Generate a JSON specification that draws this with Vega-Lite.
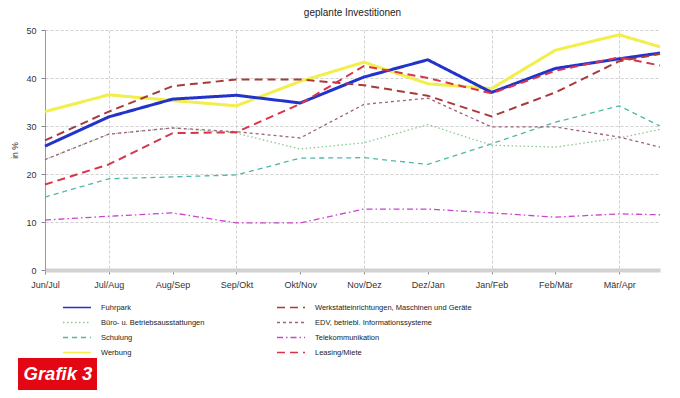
{
  "$schema": "https://vega.github.io/schema/vega-lite/v6.json",
  "width": 615,
  "height": 240,
  "autosize": {"type": "none"},
  "padding": {"left": 45, "top": 30, "right": 20, "bottom": 128},
  "background": "white",
  "title": {
    "text": "geplante Investitionen",
    "font": "Liberation Sans",
    "fontSize": 10,
    "fontWeight": "normal",
    "color": "#222222",
    "anchor": "middle",
    "offset": 8
  },
  "config": {
    "view": {"stroke": null},
    "axis": {
      "labelFont": "Liberation Sans",
      "labelFontSize": 9,
      "labelColor": "#333333",
      "titleFont": "Liberation Sans",
      "titleFontSize": 8.5,
      "titleFontWeight": "normal",
      "titleColor": "#333333",
      "tickColor": "#888888",
      "gridColor": "#c4c4c4",
      "gridDash": [3, 2],
      "gridWidth": 0.8
    }
  },
  "datasets": {
    "werte": [
      {"serie": "Telekommunikation", "t": 0, "wert": 10.4},
      {"serie": "Telekommunikation", "t": 1, "wert": 11.2},
      {"serie": "Telekommunikation", "t": 2, "wert": 11.9},
      {"serie": "Telekommunikation", "t": 3, "wert": 9.8},
      {"serie": "Telekommunikation", "t": 4, "wert": 9.8},
      {"serie": "Telekommunikation", "t": 5, "wert": 12.7},
      {"serie": "Telekommunikation", "t": 6, "wert": 12.7},
      {"serie": "Telekommunikation", "t": 7, "wert": 11.9},
      {"serie": "Telekommunikation", "t": 8, "wert": 11.0},
      {"serie": "Telekommunikation", "t": 9, "wert": 11.7},
      {"serie": "Telekommunikation", "t": 9.64, "wert": 11.5},
      {"serie": "Schulung", "t": 0, "wert": 15.2},
      {"serie": "Schulung", "t": 1, "wert": 19.0},
      {"serie": "Schulung", "t": 2, "wert": 19.4},
      {"serie": "Schulung", "t": 3, "wert": 19.8},
      {"serie": "Schulung", "t": 4, "wert": 23.3},
      {"serie": "Schulung", "t": 5, "wert": 23.4},
      {"serie": "Schulung", "t": 6, "wert": 22.0},
      {"serie": "Schulung", "t": 7, "wert": 26.3},
      {"serie": "Schulung", "t": 8, "wert": 30.8},
      {"serie": "Schulung", "t": 9, "wert": 34.2},
      {"serie": "Schulung", "t": 9.64, "wert": 30.0},
      {"serie": "Büro- u. Betriebsausstattungen", "t": 0, "wert": 23.0},
      {"serie": "Büro- u. Betriebsausstattungen", "t": 1, "wert": 28.3},
      {"serie": "Büro- u. Betriebsausstattungen", "t": 2, "wert": 29.6},
      {"serie": "Büro- u. Betriebsausstattungen", "t": 3, "wert": 28.5},
      {"serie": "Büro- u. Betriebsausstattungen", "t": 4, "wert": 25.2},
      {"serie": "Büro- u. Betriebsausstattungen", "t": 5, "wert": 26.5},
      {"serie": "Büro- u. Betriebsausstattungen", "t": 6, "wert": 30.3},
      {"serie": "Büro- u. Betriebsausstattungen", "t": 7, "wert": 26.0},
      {"serie": "Büro- u. Betriebsausstattungen", "t": 8, "wert": 25.6},
      {"serie": "Büro- u. Betriebsausstattungen", "t": 9, "wert": 27.5},
      {"serie": "Büro- u. Betriebsausstattungen", "t": 9.64, "wert": 29.3},
      {"serie": "EDV, betriebl. Informationssysteme", "t": 0, "wert": 23.0},
      {"serie": "EDV, betriebl. Informationssysteme", "t": 1, "wert": 28.3},
      {"serie": "EDV, betriebl. Informationssysteme", "t": 2, "wert": 29.6},
      {"serie": "EDV, betriebl. Informationssysteme", "t": 3, "wert": 28.8},
      {"serie": "EDV, betriebl. Informationssysteme", "t": 4, "wert": 27.5},
      {"serie": "EDV, betriebl. Informationssysteme", "t": 5, "wert": 34.5},
      {"serie": "EDV, betriebl. Informationssysteme", "t": 6, "wert": 35.8},
      {"serie": "EDV, betriebl. Informationssysteme", "t": 7, "wert": 29.8},
      {"serie": "EDV, betriebl. Informationssysteme", "t": 8, "wert": 29.8},
      {"serie": "EDV, betriebl. Informationssysteme", "t": 9, "wert": 27.7},
      {"serie": "EDV, betriebl. Informationssysteme", "t": 9.64, "wert": 25.6},
      {"serie": "Werbung", "t": 0, "wert": 33.0},
      {"serie": "Werbung", "t": 1, "wert": 36.5},
      {"serie": "Werbung", "t": 2, "wert": 35.3},
      {"serie": "Werbung", "t": 3, "wert": 34.2},
      {"serie": "Werbung", "t": 4, "wert": 39.3},
      {"serie": "Werbung", "t": 5, "wert": 43.3},
      {"serie": "Werbung", "t": 6, "wert": 38.8},
      {"serie": "Werbung", "t": 7, "wert": 37.8},
      {"serie": "Werbung", "t": 8, "wert": 45.8},
      {"serie": "Werbung", "t": 9, "wert": 49.0},
      {"serie": "Werbung", "t": 9.64, "wert": 46.5},
      {"serie": "Fuhrpark", "t": 0, "wert": 25.8},
      {"serie": "Fuhrpark", "t": 1, "wert": 31.9},
      {"serie": "Fuhrpark", "t": 2, "wert": 35.6},
      {"serie": "Fuhrpark", "t": 3, "wert": 36.4},
      {"serie": "Fuhrpark", "t": 4, "wert": 34.8},
      {"serie": "Fuhrpark", "t": 5, "wert": 40.2},
      {"serie": "Fuhrpark", "t": 6, "wert": 43.8},
      {"serie": "Fuhrpark", "t": 7, "wert": 37.0},
      {"serie": "Fuhrpark", "t": 8, "wert": 42.0},
      {"serie": "Fuhrpark", "t": 9, "wert": 44.0},
      {"serie": "Fuhrpark", "t": 9.64, "wert": 45.2},
      {"serie": "Werkstatteinrichtungen, Maschinen und Geräte", "t": 0, "wert": 27.0},
      {"serie": "Werkstatteinrichtungen, Maschinen und Geräte", "t": 1, "wert": 33.0},
      {"serie": "Werkstatteinrichtungen, Maschinen und Geräte", "t": 2, "wert": 38.3},
      {"serie": "Werkstatteinrichtungen, Maschinen und Geräte", "t": 3, "wert": 39.7},
      {"serie": "Werkstatteinrichtungen, Maschinen und Geräte", "t": 4, "wert": 39.7},
      {"serie": "Werkstatteinrichtungen, Maschinen und Geräte", "t": 5, "wert": 38.5},
      {"serie": "Werkstatteinrichtungen, Maschinen und Geräte", "t": 6, "wert": 36.3},
      {"serie": "Werkstatteinrichtungen, Maschinen und Geräte", "t": 7, "wert": 32.0},
      {"serie": "Werkstatteinrichtungen, Maschinen und Geräte", "t": 8, "wert": 37.0},
      {"serie": "Werkstatteinrichtungen, Maschinen und Geräte", "t": 9, "wert": 43.5},
      {"serie": "Werkstatteinrichtungen, Maschinen und Geräte", "t": 9.64, "wert": 45.0},
      {"serie": "Leasing/Miete", "t": 0, "wert": 17.8},
      {"serie": "Leasing/Miete", "t": 1, "wert": 22.0},
      {"serie": "Leasing/Miete", "t": 2, "wert": 28.5},
      {"serie": "Leasing/Miete", "t": 3, "wert": 28.7},
      {"serie": "Leasing/Miete", "t": 4, "wert": 34.6},
      {"serie": "Leasing/Miete", "t": 5, "wert": 42.5},
      {"serie": "Leasing/Miete", "t": 6, "wert": 40.0},
      {"serie": "Leasing/Miete", "t": 7, "wert": 36.8},
      {"serie": "Leasing/Miete", "t": 8, "wert": 41.5},
      {"serie": "Leasing/Miete", "t": 9, "wert": 44.3},
      {"serie": "Leasing/Miete", "t": 9.64, "wert": 42.6}
    ],
    "kennung": [{"kennung": "Grafik 3"}]
  },
  "layer": [
    {
      "data": {"name": "werte"},
      "mark": {"type": "line", "clip": false},
      "encoding": {
        "x": {
          "field": "t",
          "type": "quantitative",
          "scale": {"domain": [0, 9.64], "nice": false, "zero": false},
          "axis": {
            "title": null,
            "values": [0, 1, 2, 3, 4, 5, 6, 7, 8, 9],
            "labelExpr": "['Jun/Jul','Jul/Aug','Aug/Sep','Sep/Okt','Okt/Nov','Nov/Dez','Dez/Jan','Jan/Feb','Feb/Mär','Mär/Apr'][datum.value]",
            "labelFlush": false,
            "labelOverlap": false,
            "grid": true,
            "gridOpacity": {"condition": {"test": "datum.value % 2 == 1", "value": 1}, "value": 0},
            "domainColor": "#d2d2d2",
            "domainWidth": 4,
            "tickSize": 4,
            "labelPadding": 6
          }
        },
        "y": {
          "field": "wert",
          "type": "quantitative",
          "scale": {"domain": [0, 50], "nice": false},
          "axis": {
            "title": "in %",
            "values": [0, 10, 20, 30, 40, 50],
            "labelFlush": false,
            "domainColor": "#999999",
            "tickSize": 4,
            "labelPadding": 5,
            "titlePadding": 6
          }
        },
        "color": {
          "field": "serie",
          "type": "nominal",
          "scale": {
            "domain": [
              "Fuhrpark",
              "Büro- u. Betriebsausstattungen",
              "Schulung",
              "Werbung",
              "Werkstatteinrichtungen, Maschinen und Geräte",
              "EDV, betriebl. Informationssysteme",
              "Telekommunikation",
              "Leasing/Miete"
            ],
            "range": ["#2233cc", "#8cc88c", "#4fb8a8", "#f2ee4a", "#a83a3a", "#a06080", "#cc44cc", "#d8344a"]
          },
          "legend": {
            "title": null,
            "orient": "none",
            "legendX": 17,
            "legendY": 270,
            "columns": 2,
            "columnPadding": 71,
            "rowPadding": 0,
            "clipHeight": 15,
            "symbolType": "stroke",
            "symbolSize": 784,
            "symbolStrokeWidth": 1.6,
            "labelOffset": 9,
            "labelFont": "Liberation Sans",
            "labelFontSize": 7.5,
            "labelColor": "#222222",
            "labelLimit": 400
          }
        },
        "strokeDash": {
          "field": "serie",
          "type": "nominal",
          "scale": {
            "domain": [
              "Fuhrpark",
              "Büro- u. Betriebsausstattungen",
              "Schulung",
              "Werbung",
              "Werkstatteinrichtungen, Maschinen und Geräte",
              "EDV, betriebl. Informationssysteme",
              "Telekommunikation",
              "Leasing/Miete"
            ],
            "range": [[1, 0], [1.5, 2.5], [5, 4], [1, 0], [8, 5], [3, 3], [6, 3, 1.5, 3], [8, 5]]
          }
        },
        "strokeWidth": {
          "condition": [
            {"test": "datum.serie == 'Fuhrpark' || datum.serie == 'Werbung'", "value": 3},
            {"test": "datum.serie == 'Werkstatteinrichtungen, Maschinen und Geräte' || datum.serie == 'Leasing/Miete'", "value": 2}
          ],
          "value": 1.3
        }
      }
    },
    {
      "data": {"name": "kennung"},
      "mark": {"type": "point", "opacity": 0},
      "encoding": {
        "shape": {
          "field": "kennung",
          "type": "nominal",
          "legend": {
            "title": null,
            "orient": "none",
            "legendX": -27,
            "legendY": 328,
            "fillColor": "#e30613",
            "padding": 4,
            "clipHeight": 24,
            "symbolSize": 0,
            "symbolOpacity": 0,
            "labelOffset": -17,
            "labelFont": "Liberation Sans",
            "labelFontSize": 18.5,
            "labelFontStyle": "italic",
            "labelFontWeight": "bold",
            "labelColor": "white"
          }
        }
      }
    }
  ]
}
